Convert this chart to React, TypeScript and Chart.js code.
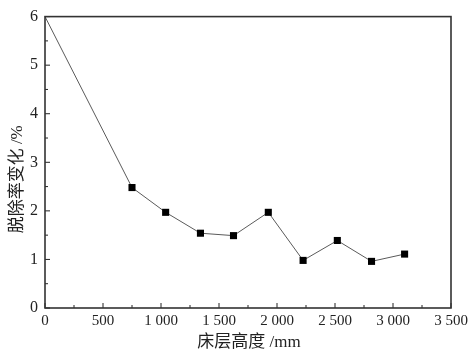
import React, { useEffect, useRef } from "react";
import { Chart, registerables } from "chart.js";

Chart.register(...registerables);

const bedHeight = [0, 750, 1040, 1340, 1625, 1925, 2225, 2520, 2815, 3100];
const removalChange = [6, 2.48, 1.97, 1.54, 1.49, 1.97, 0.98, 1.39, 0.96, 1.11];
const markerRadius = [0, 5, 5, 5, 5, 5, 5, 5, 5, 5];
const xTitle = "床层高度 /mm";
const yTitle = "脱除率变化 /%";

const NUM_FONT = "'Liberation Serif', serif";
const TITLE_FONT = "'Liberation Serif', 'Noto Sans CJK SC', serif";

Chart.defaults.font.family = NUM_FONT;

const fmt = (v: number) => {
  const s = String(Math.round(v));
  return s.length > 3 ? s.slice(0, s.length - 3) + " " + s.slice(s.length - 3) : s;
};

const framePlugin = {
  id: "frame",
  afterDraw(chart: any) {
    const { ctx, chartArea } = chart;
    const { left, right, top, bottom } = chartArea;
    const xs = chart.scales.x;
    const ys = chart.scales.y;
    ctx.save();
    ctx.strokeStyle = "#222";
    ctx.lineWidth = 1;
    ctx.beginPath();
    const xt = xs.ticks.map((t: any) => t.value);
    for (let i = 0; i < xt.length; i++) {
      const px = xs.getPixelForValue(xt[i]);
      ctx.moveTo(px, bottom);
      ctx.lineTo(px, bottom - 5);
      if (i < xt.length - 1) {
        const mx = xs.getPixelForValue((xt[i] + xt[i + 1]) / 2);
        ctx.moveTo(mx, bottom);
        ctx.lineTo(mx, bottom - 3);
      }
    }
    const yt = ys.ticks.map((t: any) => t.value);
    for (let i = 0; i < yt.length; i++) {
      const py = ys.getPixelForValue(yt[i]);
      ctx.moveTo(left, py);
      ctx.lineTo(left + 5, py);
      if (i < yt.length - 1) {
        const my = ys.getPixelForValue((yt[i] + yt[i + 1]) / 2);
        ctx.moveTo(left, my);
        ctx.lineTo(left + 3, my);
      }
    }
    ctx.stroke();
    ctx.strokeStyle = "#333";
    ctx.lineWidth = 1.6;
    ctx.strokeRect(left, top, right - left, bottom - top);

    ctx.fillStyle = "#222";
    ctx.font = "17px " + TITLE_FONT;
    ctx.textAlign = "center";
    ctx.textBaseline = "middle";
    ctx.fillText(xTitle, (left + right) / 2 + 1, bottom + 35);
    ctx.translate(18, (top + bottom) / 2 + 17);
    ctx.rotate(-Math.PI / 2);
    ctx.fillText(yTitle, 0, 0);
    ctx.restore();
  },
};

export default function App() {
  const ref = useRef<HTMLCanvasElement>(null);
  useEffect(() => {
    if (!ref.current) return;
    const chart = new Chart(ref.current, {
      type: "line",
      data: {
        datasets: [
          {
            data: bedHeight.map((x, i) => ({ x, y: removalChange[i] })),
            borderColor: "#5a5a5a",
            borderWidth: 1,
            pointStyle: "rect",
            pointRadius: markerRadius,
            pointBackgroundColor: "#000",
            pointBorderColor: "#000",
            pointBorderWidth: 0,
            tension: 0,
          },
        ],
      },
      options: {
        animation: false,
        responsive: false,
        clip: false as any,
        layout: { padding: { top: 11, right: 21, left: 0, bottom: 0 } },
        plugins: { legend: { display: false }, tooltip: { enabled: false } },
        scales: {
          x: {
            type: "linear",
            min: 0,
            max: 3500,
            grid: { display: false, drawTicks: false },
            border: { display: false },
            ticks: {
              stepSize: 500,
              padding: 4,
              color: "#222",
              font: { family: NUM_FONT, size: 15 },
              maxRotation: 0,
              callback: (v: any) => fmt(Number(v)),
            },
            afterFit: (s: any) => {
              s.height = 56;
            },
          },
          y: {
            min: 0,
            max: 6,
            grid: { display: false, drawTicks: false },
            border: { display: false },
            ticks: {
              stepSize: 1,
              padding: 7,
              color: "#222",
              font: { family: NUM_FONT, size: 16 },
            },
            afterFit: (s: any) => {
              s.width = 45;
            },
          },
        },
      },
      plugins: [framePlugin],
    });
    return () => chart.destroy();
  }, []);
  return (
    <div style={{ position: "fixed", left: 0, top: 0, width: 472, height: 364, background: "#fff" }}>
      <canvas ref={ref} width={472} height={364} />
    </div>
  );
}
